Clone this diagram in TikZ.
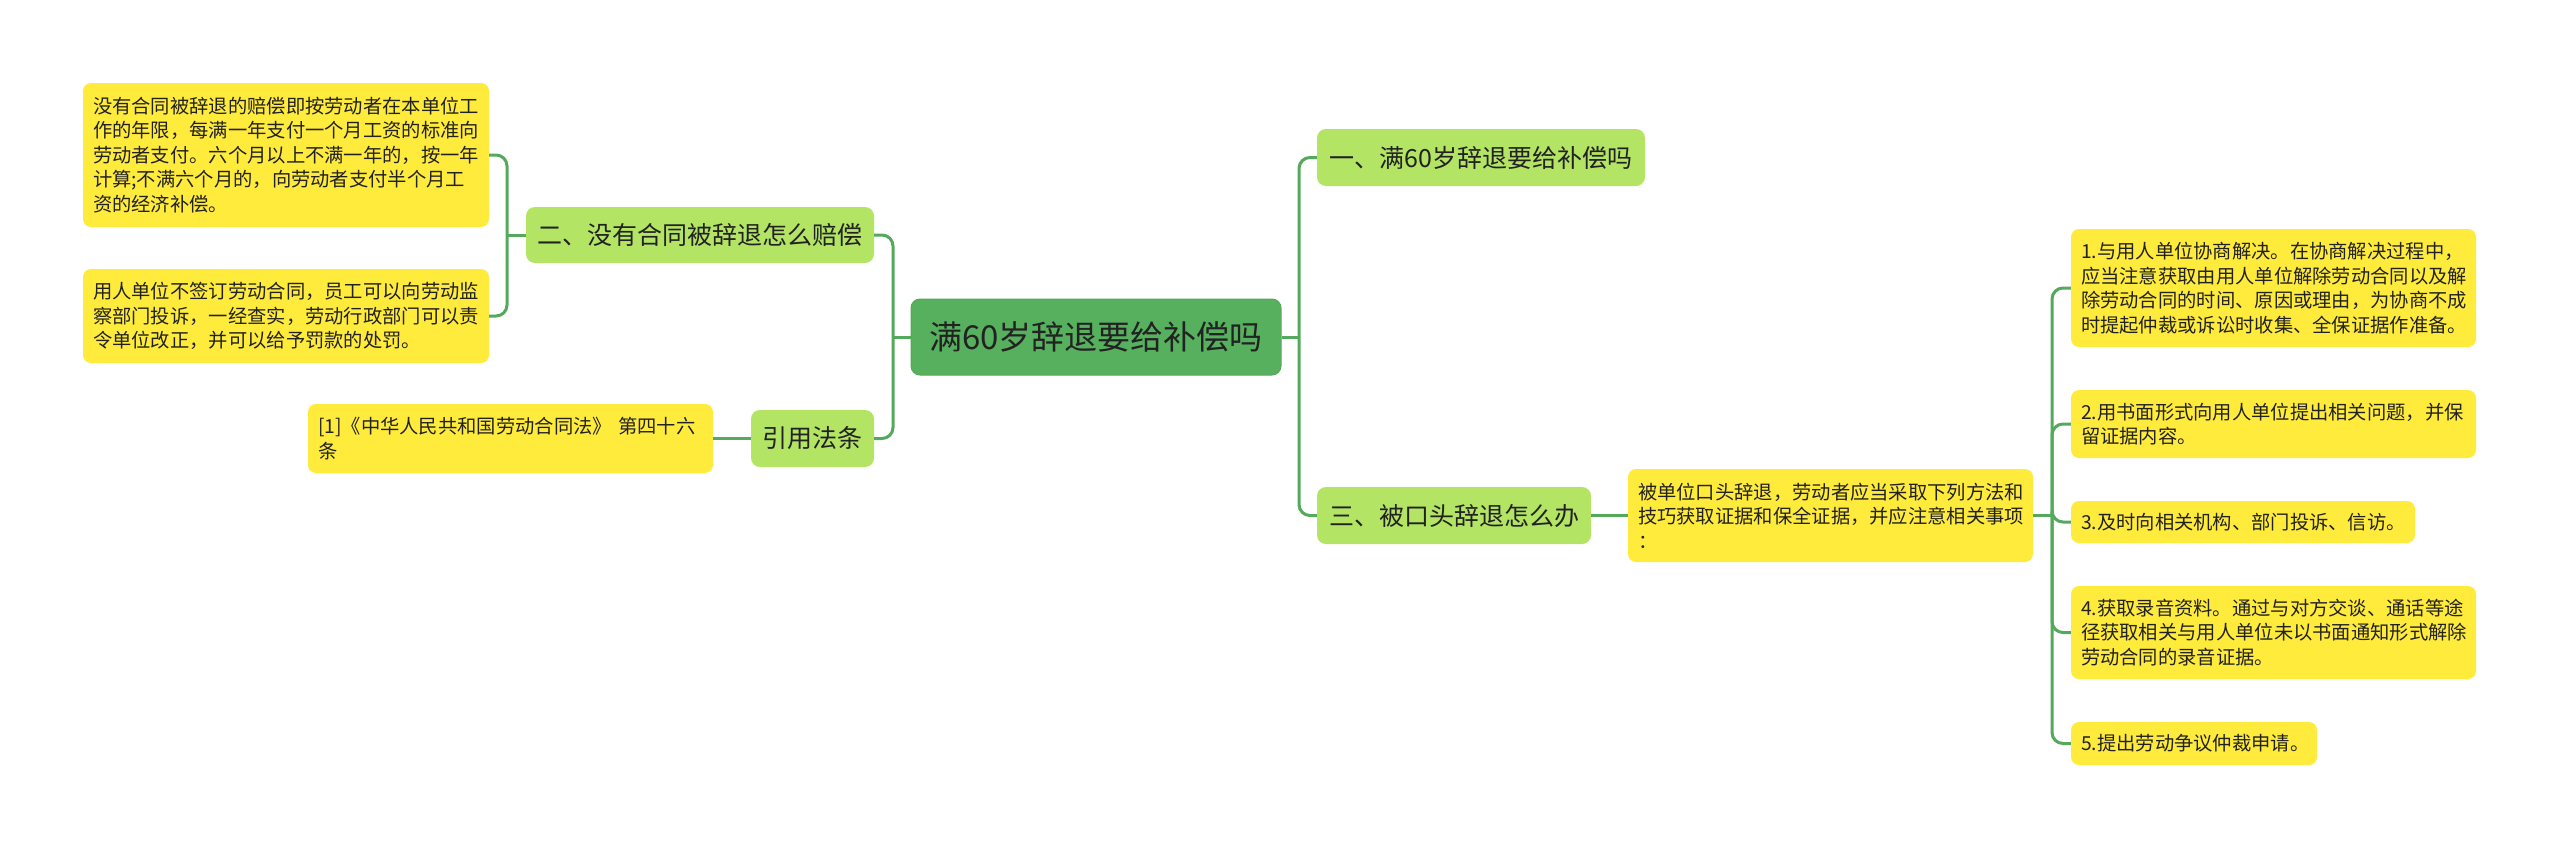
\documentclass[tikz,border=0pt]{standalone}
\usepackage{fontspec}
\setmainfont{Noto Sans CJK SC}
\definecolor{yel}{HTML}{FFEB3B}
\definecolor{lg}{HTML}{B3E464}
\definecolor{cg}{HTML}{56B05E}
\definecolor{lc}{HTML}{55A95C}
\definecolor{txt}{HTML}{222222}
\tikzset{
  ybox/.style={fill=yel, rounded corners=8pt, inner xsep=10pt, inner ysep=0pt, align=left,
    font=\fontsize{19.3pt}{24.5pt}\selectfont, text=txt},
  gbox/.style={fill=lg, rounded corners=9pt, inner sep=0pt, align=center,
    font=\fontsize{25pt}{30pt}\selectfont, text=txt},
  cbox/.style={fill=cg, draw=lc, line width=1pt, rounded corners=9pt, inner sep=0pt, align=center,
    font=\fontsize{33pt}{38pt}\selectfont, text=txt},
  conn/.style={draw=lc, line width=3pt, rounded corners=11pt},
}
\begin{document}
\begin{tikzpicture}[x=1pt,y=-1pt]
\useasboundingbox (0,0) rectangle (2560,849);
\fill[white] (0,0) rectangle (2560,849);

% center
\node[cbox, minimum width=370pt, minimum height=76pt] (c) at (1096,337) {满60岁辞退要给补偿吗};

% level 1
\node[gbox, minimum width=328pt, minimum height=57pt] (n1) at (1481,157.5) {一、满60岁辞退要给补偿吗};
\node[gbox, minimum width=274pt, minimum height=57pt] (n3) at (1454,515.5) {三、被口头辞退怎么办};
\node[gbox, minimum width=348pt, minimum height=56pt] (n2) at (700,235) {二、没有合同被辞退怎么赔偿};
\node[gbox, minimum width=123pt, minimum height=57pt] (nr) at (812.5,438.5) {引用法条};

% left leaves
\node[ybox, text width=386pt, minimum height=144pt] (l1) at (286,155) {没有合同被辞退的赔偿即按劳动者在本单位工\\作的年限，每满一年支付一个月工资的标准向\\劳动者支付。六个月以上不满一年的，按一年\\计算;不满六个月的，向劳动者支付半个月工\\资的经济补偿。};
\node[ybox, text width=386pt, minimum height=94pt] (l2) at (286,316) {用人单位不签订劳动合同，员工可以向劳动监\\察部门投诉，一经查实，劳动行政部门可以责\\令单位改正，并可以给予罚款的处罚。};
\node[ybox, text width=385pt, minimum height=69pt] (lr) at (510.5,438.5) {[1]《中华人民共和国劳动合同法》 第四十六\\条};

% right
\node[ybox, text width=385pt, minimum height=93pt] (m) at (1830.5,515.5) {被单位口头辞退，劳动者应当采取下列方法和\\技巧获取证据和保全证据，并应注意相关事项\\：};
\node[ybox, text width=385pt, minimum height=118pt] (b1) at (2273.5,288) {1.与用人单位协商解决。在协商解决过程中，\\应当注意获取由用人单位解除劳动合同以及解\\除劳动合同的时间、原因或理由，为协商不成\\时提起仲裁或诉讼时收集、全保证据作准备。};
\node[ybox, text width=385pt, minimum height=68pt] (b2) at (2273.5,424) {2.用书面形式向用人单位提出相关问题，并保\\留证据内容。};
\node[ybox, text width=324pt, minimum height=42pt] (b3) at (2243,522) {3.及时向相关机构、部门投诉、信访。};
\node[ybox, text width=385pt, minimum height=93pt] (b4) at (2273.5,632.5) {4.获取录音资料。通过与对方交谈、通话等途\\径获取相关与用人单位未以书面通知形式解除\\劳动合同的录音证据。};
\node[ybox, text width=226pt, minimum height=43pt] (b5) at (2194,743.5) {5.提出劳动争议仲裁申请。};

% trunk coordinates
\coordinate (tl1) at (893,337);
\coordinate (tl2) at (507,235);
\coordinate (tr1) at (1299,337);
\coordinate (tr2) at (2052,515.5);

% connectors
\draw[conn] (c.west) -- (tl1);
\draw[conn] (tl1) |- (n2.east);
\draw[conn] (tl1) |- (nr.east);
\draw[conn] (n2.west) -- (tl2);
\draw[conn] (tl2) |- (l1.east);
\draw[conn] (tl2) |- (l2.east);
\draw[conn] (nr.west) -- (lr.east);

\draw[conn] (c.east) -- (tr1);
\draw[conn] (tr1) |- (n1.west);
\draw[conn] (tr1) |- (n3.west);
\draw[conn] (n3.east) -- (m.west);
\draw[conn] (m.east) -- (tr2);
\draw[conn] (tr2) |- (b1.west);
\draw[conn] (tr2) |- (b2.west);
\draw[conn] (tr2) |- (b3.west);
\draw[conn] (tr2) |- (b4.west);
\draw[conn] (tr2) |- (b5.west);
\end{tikzpicture}
\end{document}
